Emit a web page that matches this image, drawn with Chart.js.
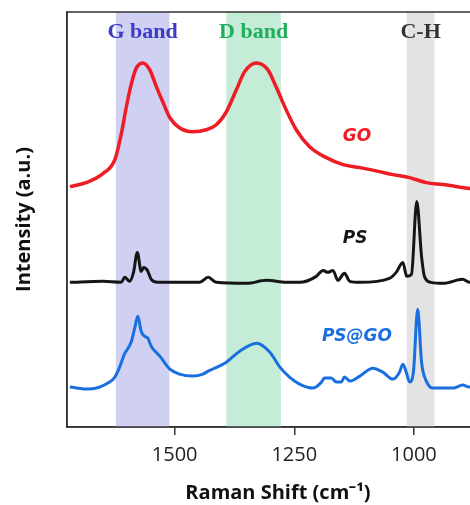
<!DOCTYPE html>
<html>
<head>
<meta charset="utf-8">
<script src="https://cdn.jsdelivr.net/npm/chart.js@4"></script>
<style>
  html, body { margin: 0; padding: 0; background: #fff; overflow: hidden; }
  #wrap { width: 470px; height: 505px; overflow: hidden; }
  #box { width: 489px; height: 505px; }
</style>
</head>
<body>
<div id="wrap"><div id="box"><canvas id="myChart"></canvas></div></div>
<script>
// Raman shift (cm-1) and intensity (a.u., offset stacked)
var goShift = [1719, 1685, 1650, 1625, 1611, 1601, 1590, 1580, 1566, 1552, 1538, 1524, 1510, 1490, 1462, 1434, 1413, 1392, 1371, 1354, 1329, 1305, 1288, 1267, 1246, 1218, 1183, 1148, 1113, 1072, 1044, 1009, 974, 939, 883, 845];
var goIntensity = [241, 245, 254, 268, 295, 321, 345, 360, 365, 358, 341, 325, 310, 300, 296, 298, 303, 316, 338, 356, 365, 358, 341, 318, 298, 281, 270, 263, 260, 256, 253, 250, 245, 243, 239, 237];

var psShift = [1719, 1650, 1612, 1604, 1594, 1586, 1578, 1570, 1565, 1557, 1549, 1535, 1448, 1430, 1413, 1350, 1308, 1267, 1239, 1204, 1190, 1180, 1169, 1159, 1145, 1134, 1113, 1051, 1037, 1023, 1015, 1005, 994, 984, 978, 964, 939, 898, 884, 845];
var psIntensity = [145, 146, 145, 150, 146, 155, 175, 156, 160, 157, 148, 145, 145, 150, 145, 144, 147, 145, 145, 151, 157, 155, 157, 147, 154, 146, 145, 149, 155, 165, 151, 153, 226, 171, 151, 145, 144, 148, 145, 145];

var psgoShift = [1719, 1678, 1636, 1625, 1615, 1605, 1591, 1584, 1577, 1570, 1563, 1556, 1549, 1531, 1510, 1490, 1462, 1441, 1430, 1392, 1364, 1329, 1301, 1280, 1260, 1239, 1211, 1193, 1187, 1173, 1162, 1152, 1145, 1134, 1113, 1086, 1065, 1044, 1030, 1023, 1016, 1009, 1001, 992, 984, 974, 960, 918, 898, 884, 845];
var psgoIntensity = [40, 38, 45, 50, 60, 73, 85, 98, 111, 96, 91, 89, 81, 71, 58, 53, 51, 53, 56, 65, 76, 84, 75, 60, 50, 43, 39, 45, 49, 49, 45, 45, 50, 46, 51, 59, 55, 48, 55, 63, 55, 45, 55, 118, 65, 46, 39, 39, 42, 40, 40];

var seriesNames = ['GO', 'PS', 'PS@GO'];
var seriesColors = ['#ee1c24', '#151515', '#1a6fe0'];

var bandFrom = [1623, 1392, 1015];
var bandTo = [1511, 1278, 957];
var bandNames = ['G band', 'D band', 'C-H'];
var bandFill = ['rgb(208,208,242)', 'rgb(196,236,214)', 'rgb(227,227,227)'];
var bandText = ['#3c3cc6', '#1fae5a', '#333333'];

var xTicks = [1500, 1250, 1000];

// where the text labels sit, in data units
var bandLabelY = 396;
var seriesLabelX = [1119, 1123, 1119];
var seriesLabelY = [291, 189, 91];

function pts(xs, ys) {
    return xs.map((v, i) => ({x: v, y: ys[i]}));
}

var bandsPlugin = {
    id: 'bands',
    beforeDatasetsDraw(chart) {
        var ctx = chart.ctx, a = chart.chartArea, x = chart.scales.x;
        ctx.save();
        bandFrom.forEach((f, i) => {
            var x1 = x.getPixelForValue(f), x2 = x.getPixelForValue(bandTo[i]);
            ctx.fillStyle = bandFill[i];
            ctx.fillRect(Math.min(x1, x2), a.top, Math.abs(x2 - x1), a.bottom - a.top);
        });
        ctx.restore();
    },
    afterDatasetsDraw(chart) {
        var ctx = chart.ctx, a = chart.chartArea, x = chart.scales.x, y = chart.scales.y;
        ctx.save();
        // frame
        ctx.strokeStyle = '#333';
        ctx.lineWidth = 1.5;
        ctx.strokeRect(a.left, a.top, a.right - a.left, a.bottom - a.top);
        ctx.textAlign = 'center';
        ctx.textBaseline = 'middle';
        // band names
        ctx.font = 'bold 22px "Liberation Serif"';
        bandNames.forEach((n, i) => {
            ctx.fillStyle = bandText[i];
            ctx.fillText(n, x.getPixelForValue((bandFrom[i] + bandTo[i]) / 2), y.getPixelForValue(bandLabelY));
        });
        // series names
        ctx.font = 'italic bold 17px "DejaVu Sans"';
        seriesNames.forEach((n, i) => {
            ctx.fillStyle = seriesColors[i];
            ctx.fillText(n, x.getPixelForValue(seriesLabelX[i]), y.getPixelForValue(seriesLabelY[i]));
        });
        ctx.restore();
    }
};

var ctx = document.getElementById('myChart').getContext('2d');

var chart = new Chart(ctx, {
    type: 'line',
    data: {
        datasets: [{
            label: seriesNames[0],
            data: pts(goShift, goIntensity),
            borderColor: seriesColors[0],
            borderWidth: 3.5,
        }, {
            label: seriesNames[1],
            data: pts(psShift, psIntensity),
            borderColor: seriesColors[1],
            borderWidth: 3,
        }, {
            label: seriesNames[2],
            data: pts(psgoShift, psgoIntensity),
            borderColor: seriesColors[2],
            borderWidth: 3,
        }]
    },
    options: {
        responsive: true,
        maintainAspectRatio: false,
        animation: false,
        elements: {
            point: {radius: 0},
            line: {cubicInterpolationMode: 'monotone', fill: false}
        },
        layout: {padding: {top: 12, right: 0, bottom: 0, left: 0}},
        plugins: {
            legend: {display: false},
            tooltip: {enabled: false}
        },
        scales: {
            x: {
                type: 'linear',
                reverse: true,
                min: 843,
                max: 1725,
                afterBuildTicks: axis => { axis.ticks = xTicks.map(v => ({value: v})); },
                grid: {drawOnChartArea: false, drawTicks: true, tickLength: 8, color: '#333', lineWidth: 1.5},
                border: {display: true, color: '#333', width: 1.5},
                ticks: {
                    color: '#222',
                    font: {family: '"Open Sans"', size: 20},
                    padding: 8,
                    maxRotation: 0,
                    callback: v => String(v)
                },
                title: {
                    display: true,
                    text: 'Raman Shift (cm⁻¹)',
                    color: '#111',
                    font: {family: '"Open Sans"', size: 20, weight: 'bold'},
                    padding: {top: 6, bottom: 0}
                }
            },
            y: {
                min: 0,
                max: 416,
                grid: {display: false, drawTicks: false},
                border: {display: true, color: '#333', width: 1.5},
                ticks: {display: false},
                title: {
                    display: true,
                    text: 'Intensity (a.u.)',
                    color: '#111',
                    font: {family: '"Open Sans"', size: 20, weight: 'bold'},
                    padding: {top: 12, bottom: 31}
                }
            }
        }
    },
    plugins: [bandsPlugin]
});
</script>
</body>
</html>
